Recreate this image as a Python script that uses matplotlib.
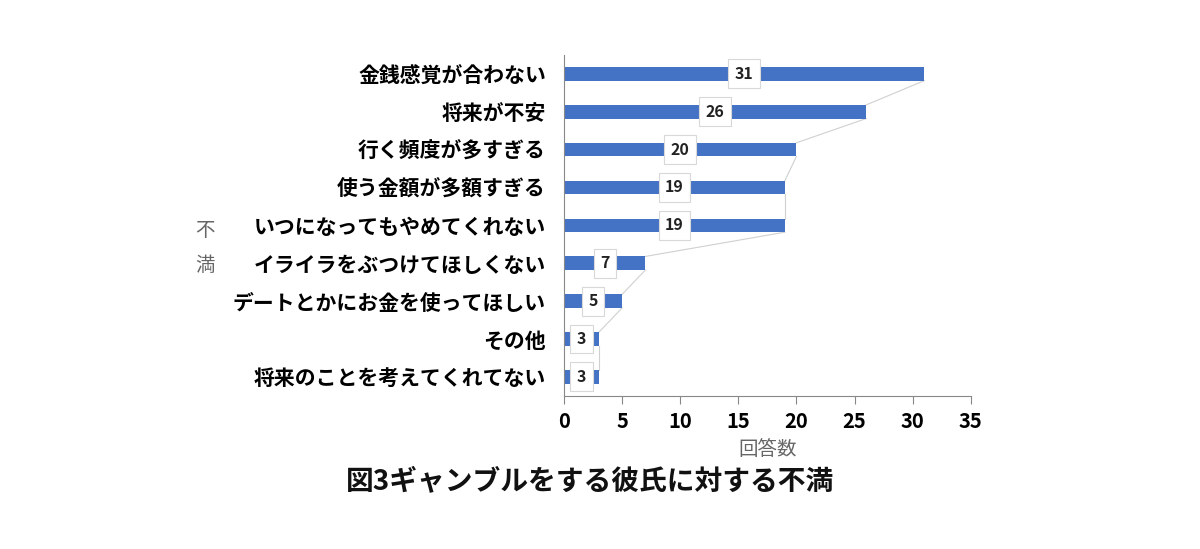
import matplotlib
matplotlib.use("Agg")
import matplotlib.pyplot as plt

plt.rcParams['font.family'] = ['Noto Sans CJK JP', 'DejaVu Sans']

categories = ["金銭感覚が合わない", "将来が不安", "行く頻度が多すぎる", "使う金額が多額すぎる",
              "いつになってもやめてくれない", "イライラをぶつけてほしくない",
              "デートとかにお金を使ってほしい", "その他", "将来のことを考えてくれてない"]
values = [31, 26, 20, 19, 19, 7, 5, 3, 3]
xticks = [0, 5, 10, 15, 20, 25, 30, 35]

fig = plt.figure(figsize=(12, 5.49), dpi=100)
ax = fig.add_axes([0.47, 0.279, 0.339, 0.621])

ypos = list(range(len(categories)))
h = 0.36
ax.barh(ypos, values, height=h, color="#4472C4", zorder=2)
ax.set_ylim(len(categories) - 0.5, -0.5)
ax.set_xlim(0, 35)

# connector lines between bar ends
for i in range(len(values) - 1):
    ax.plot([values[i], values[i + 1]], [ypos[i] + h / 2, ypos[i + 1] - h / 2],
            color="#d0d0d0", lw=0.8, zorder=1)

for y, v in zip(ypos, values):
    ax.text(v / 2, y, str(v), ha="center", va="center", fontsize=11.5, fontweight="bold",
            color="#222222", zorder=3,
            bbox=dict(boxstyle="square,pad=0.4", fc="white", ec="#d8d8d8", lw=0.8))

ax.set_yticks(ypos)
ax.set_yticklabels(categories, fontsize=15, fontweight="bold")
ax.set_xticks(xticks)
ax.set_xticklabels([str(t) for t in xticks], fontsize=14.5, fontweight="bold")
ax.tick_params(axis="y", length=0, pad=13)
ax.tick_params(axis="x", length=6, color="#888888", direction="out", pad=5)

for s in ["top", "right"]:
    ax.spines[s].set_visible(False)
ax.spines["left"].set_color("#888888")
ax.spines["bottom"].set_color("#888888")

ax.set_xlabel("回答数", fontsize=14, color="#666666", labelpad=5)
fig.text(205 / 1200, 1 - 248 / 549, "不\n満", fontsize=14, color="#666666",
         ha="center", va="center", linespacing=1.9)
fig.text(590 / 1200, 1 - 482 / 549, "図3ギャンブルをする彼氏に対する不満", fontsize=20,
         fontweight="bold", ha="center", va="center", color="#111111")

fig.savefig("out.png", dpi=100, facecolor="white")
